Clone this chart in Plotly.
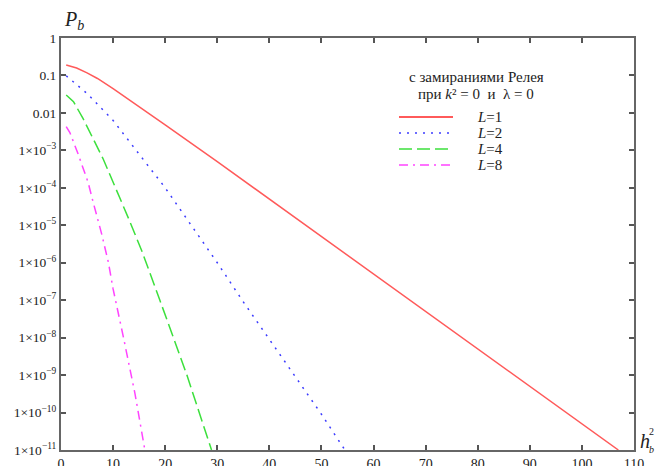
import plotly.graph_objects as go

# h_b^2 (dB) and P_b values
x_L1 = [1, 3, 5, 7, 10, 15, 20, 30, 40, 50, 60, 70, 80, 90, 100, 107]
pb_L1 = [0.19, 0.158, 0.117, 0.083, 0.0447, 0.0148, 4.8e-3, 5e-4, 5e-5, 5e-6, 5e-7, 5e-8, 5e-9, 5e-10, 5e-11, 1e-11]

x_L2 = [1, 5, 10, 15, 20, 25, 30, 35, 40, 45, 50, 54.5]
pb_L2 = [0.098, 0.033, 6.3e-3, 8e-4, 1e-4, 1e-5, 1e-6, 9e-8, 9e-9, 9e-10, 9e-11, 1e-11]

x_L4 = [1, 2.4, 4.3, 8.1, 12.9, 15.5, 19, 24.1, 28.9]
pb_L4 = [0.03, 0.02, 6.8e-3, 5.9e-4, 1.6e-5, 2.1e-6, 9.8e-8, 1.07e-9, 1e-11]

x_L8 = [1, 1.7, 3.3, 4.3, 5.2, 6.2, 7.8, 9.1, 10, 12, 14.2, 16.1]
pb_L8 = [4.3e-3, 3.0e-3, 7.9e-4, 3.2e-4, 1.4e-4, 4e-5, 5.9e-6, 1.02e-6, 2e-7, 1e-8, 3.2e-10, 1e-11]

series_names = ["<i>L</i>=1", "<i>L</i>=2", "<i>L</i>=4", "<i>L</i>=8"]
series_colors = ["#ff5a5a", "#3c3cff", "#3ce03c", "#ff44ff"]
series_dash = ["solid", "2px,6px", "13px,5px", "9px,5px,2px,5px"]
legend_title = ["с замираниями Релея", "при <i>k</i>² = 0  и  λ = 0"]

x_ticks = [0, 10, 20, 30, 40, 50, 60, 70, 80, 90, 100, 110]
y_tickvals = [1, 0.1, 0.01, 1e-3, 1e-4, 1e-5, 1e-6, 1e-7, 1e-8, 1e-9, 1e-10, 1e-11]
y_ticktext = ["1", "0.1", "0.01"] + ["1×10<sup>−%d</sup>" % k for k in range(3, 12)]

FONT = "Liberation Serif, Times New Roman, serif"
TXT = "#222222"

# plot-area geometry (pixels) used to place paper-coordinate decorations
W, H = 656, 466
L, R, T, B = 61, 22, 38, 16
PW, PH = W - L - R, H - T - B


def px(xp):
    return (xp - L) / PW


def py(yp):
    return (H - B - yp) / PH


fig = go.Figure()
xs = [x_L1, x_L2, x_L4, x_L8]
ys = [pb_L1, pb_L2, pb_L4, pb_L8]
for xv, yv, nm, c, d in zip(xs, ys, series_names, series_colors, series_dash):
    fig.add_trace(go.Scatter(x=xv, y=yv, mode="lines", name=nm, showlegend=False,
                             line=dict(color=c, width=1.5, dash=d)))

axis_common = dict(showline=True, linecolor="#666666", linewidth=2, mirror="ticks",
                   ticks="inside", ticklen=5, tickwidth=1.5, tickcolor="#555555",
                   showgrid=False, zeroline=False, automargin=False)

fig.update_xaxes(range=[0, 110], tickvals=x_ticks, ticktext=[str(v) for v in x_ticks],
                 tickfont=dict(family=FONT, size=14, color=TXT), **axis_common)
fig.update_yaxes(type="log", range=[-11, 0], tickvals=y_tickvals, ticktext=y_ticktext,
                 tickfont=dict(family=FONT, size=13.5, color=TXT), **axis_common)

fig.update_layout(
    width=W, height=H,
    margin=dict(l=L, r=R, t=T, b=B),
    paper_bgcolor="white", plot_bgcolor="white",
    font=dict(family=FONT, size=15, color=TXT),
    showlegend=False,
)

# legend block (title + line samples + labels)
fig.add_annotation(text=legend_title[0], xref="paper", yref="paper",
                   x=px(476), y=py(77), xanchor="center", yanchor="middle",
                   showarrow=False, font=dict(family=FONT, size=15, color=TXT))
fig.add_annotation(text=legend_title[1], xref="paper", yref="paper",
                   x=px(476), y=py(94), xanchor="center", yanchor="middle",
                   showarrow=False, font=dict(family=FONT, size=15, color=TXT))
row_y = [117, 133, 149, 165]
for ry, nm, c, d in zip(row_y, series_names, series_colors, series_dash):
    fig.add_shape(type="line", xref="paper", yref="paper",
                  x0=px(399), x1=px(453), y0=py(ry), y1=py(ry),
                  line=dict(color=c, width=1.5 if d != "solid" else 2, dash=d))
    fig.add_annotation(text=nm, xref="paper", yref="paper",
                       x=px(475), y=py(ry), xanchor="left", yanchor="middle",
                       showarrow=False, font=dict(family=FONT, size=15, color=TXT))

# axis titles
fig.add_annotation(text="<i>P</i><sub><i>b</i></sub>", xref="paper", yref="paper",
                   x=px(74), y=py(21), xanchor="center", yanchor="middle",
                   showarrow=False, font=dict(family=FONT, size=20, color=TXT))
fig.add_annotation(text="<i>h</i>", xref="paper", yref="paper",
                   x=px(645), y=py(441), xanchor="center", yanchor="middle",
                   showarrow=False, font=dict(family=FONT, size=20, color=TXT))
fig.add_annotation(text="<i>b</i>", xref="paper", yref="paper",
                   x=px(651), y=py(449), xanchor="center", yanchor="middle",
                   showarrow=False, font=dict(family=FONT, size=10, color=TXT))
fig.add_annotation(text="2", xref="paper", yref="paper",
                   x=px(651), y=py(431), xanchor="center", yanchor="middle",
                   showarrow=False, font=dict(family=FONT, size=10, color=TXT))

fig.write_html("out.html", config={"displayModeBar": False},
               post_script="document.body.style.margin='0';")
